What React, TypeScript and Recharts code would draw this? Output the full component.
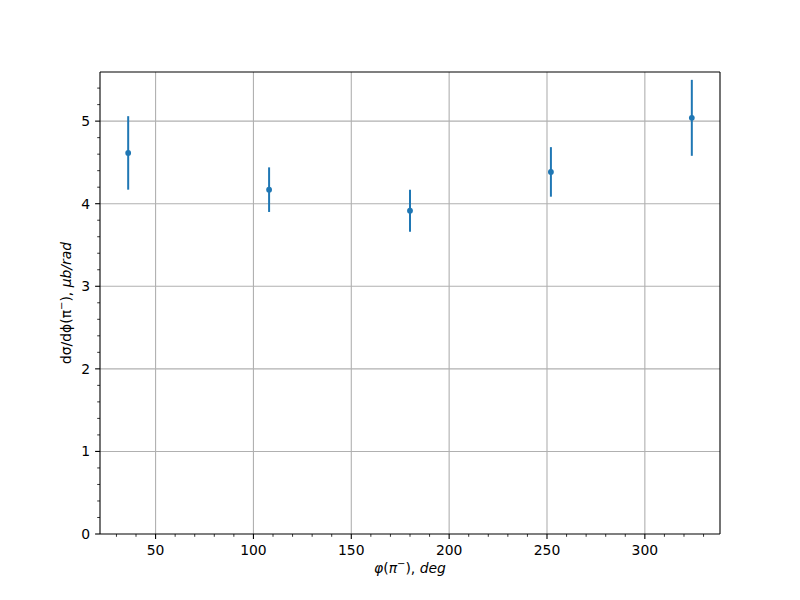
import React from 'react';
import { ScatterChart, Scatter, XAxis, YAxis, ErrorBar, ReferenceLine } from 'recharts';

const phiDeg = [36, 108, 180, 252, 324];
const xsec = [4.615, 4.17, 3.915, 4.385, 5.04];
const xsecErr = [0.445, 0.27, 0.255, 0.3, 0.46];

const xMajor = [50, 100, 150, 200, 250, 300];
const xMinor = [30, 40, 60, 70, 80, 90, 110, 120, 130, 140, 160, 170, 180, 190, 210, 220, 230, 240, 260, 270, 280, 290, 310, 320, 330];
const yMajor = [0, 1, 2, 3, 4, 5];
const yMinor = [0.2, 0.4, 0.6, 0.8, 1.2, 1.4, 1.6, 1.8, 2.2, 2.4, 2.6, 2.8, 3.2, 3.4, 3.6, 3.8, 4.2, 4.4, 4.6, 4.8, 5.2, 5.4];

const xDomain = [21.6, 338.4];
const yDomain = [0, 5.595];

const data = phiDeg.map((phi, i) => ({ phi, xsec: xsec[i], err: xsecErr[i] }));

const BLUE = '#1f77b4';
const FONT = '"DejaVu Sans", sans-serif';

const XTick = (props: any) => {
  const { x, y, payload } = props;
  const major = xMajor.includes(payload.value);
  return (
    <g>
      <line x1={x} x2={x} y1={y} y2={y + (major ? 4.9 : 2.8)} stroke="#000" strokeWidth={major ? 1.1 : 0.8} />
      {major && (
        <text x={x} y={y + 21} textAnchor="middle" fontSize={13.9} fontFamily={FONT} fill="#000">
          {payload.value}
        </text>
      )}
    </g>
  );
};

const YTick = (props: any) => {
  const { x, y, payload } = props;
  const major = yMajor.includes(payload.value);
  return (
    <g>
      <line x1={x} x2={x - (major ? 4.9 : 2.8)} y1={y} y2={y} stroke="#000" strokeWidth={major ? 1.1 : 0.8} />
      {major && (
        <text x={x - 10} y={y + 5} textAnchor="end" fontSize={13.9} fontFamily={FONT} fill="#000">
          {payload.value}
        </text>
      )}
    </g>
  );
};

const XTitle = () => (
  <text x={410} y={573} textAnchor="middle" fontSize={13.9} fontFamily={FONT} fill="#000">
    <tspan fontStyle="italic">φ</tspan>
    <tspan>(</tspan>
    <tspan fontStyle="italic">π</tspan>
    <tspan dy={-6} fontSize={10}>−</tspan>
    <tspan dy={6}>),</tspan>
    <tspan fontStyle="italic"> deg</tspan>
  </text>
);

const YTitle = () => (
  <text x={71} y={303} transform="rotate(-90 71 303)" textAnchor="middle" fontSize={13.9} fontFamily={FONT} fill="#000">
    <tspan>dσ/dϕ(π</tspan>
    <tspan dy={-6} fontSize={10}>−</tspan>
    <tspan dy={6}>),</tspan>
    <tspan fontStyle="italic"> μb/rad</tspan>
  </text>
);

const Dot = (props: any) => <circle cx={props.cx} cy={props.cy} r={2.9} fill={BLUE} />;

export default function App() {
  return (
    <div style={{ position: 'absolute', left: 0, top: 0, width: 800, height: 600, background: '#fff' }}>
      <ScatterChart width={800} height={600} margin={{ top: 72, right: 80, left: 60, bottom: 36 }}>
        <XAxis
          dataKey="phi"
          type="number"
          domain={xDomain}
          ticks={[...xMajor, ...xMinor].sort((a, b) => a - b)}
          interval={0}
          tickSize={0}
          tickMargin={0}
          tick={<XTick />}
          height={30}
          axisLine={{ stroke: '#000', strokeWidth: 1.1 }}
          allowDataOverflow
          label={<XTitle />}
        />
        <YAxis
          dataKey="xsec"
          type="number"
          domain={yDomain}
          ticks={[...yMajor, ...yMinor].sort((a, b) => a - b)}
          interval={0}
          tickSize={0}
          tickMargin={0}
          tick={<YTick />}
          width={40}
          axisLine={{ stroke: '#000', strokeWidth: 1.1 }}
          allowDataOverflow
          label={<YTitle />}
        />
        {xMajor.map((v) => (
          <ReferenceLine key={'gx' + v} x={v} stroke="#b0b0b0" strokeWidth={1.1} />
        ))}
        {yMajor.slice(1).map((v) => (
          <ReferenceLine key={'gy' + v} y={v} stroke="#b0b0b0" strokeWidth={1.1} />
        ))}
        {/* top and right frame */}
        <ReferenceLine y={yDomain[1]} stroke="#000" strokeWidth={1.1} />
        <ReferenceLine x={xDomain[1]} stroke="#000" strokeWidth={1.1} />
        <Scatter data={data} fill={BLUE} shape={<Dot />} isAnimationActive={false}>
          <ErrorBar dataKey="err" direction="y" width={0} stroke={BLUE} strokeWidth={2} isAnimationActive={false} />
        </Scatter>
      </ScatterChart>
    </div>
  );
}
